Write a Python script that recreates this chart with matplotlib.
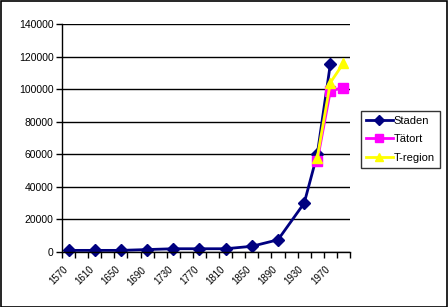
import numpy as np
import matplotlib
matplotlib.use("Agg")
import matplotlib.pyplot as plt
from matplotlib.patches import Rectangle

plt.rcParams['font.family'] = ['Liberation Sans', 'DejaVu Sans']

# Categories (20-year steps); labels shown every other category
years = [1570, 1590, 1610, 1630, 1650, 1670, 1690, 1710, 1730, 1750, 1770,
         1790, 1810, 1830, 1850, 1870, 1890, 1910, 1930, 1950, 1970, 1990]
tick_labels = ['1570', '1610', '1650', '1690', '1730', '1770', '1810',
               '1850', '1890', '1930', '1970']
nan = np.nan
staden = [1000, nan, 1000, nan, 1000, nan, 1500, nan, 2000, nan, 2000,
          nan, 2000, nan, 3500, nan, 7500, nan, 30000, 60000, 115500, nan]
tatort = [nan] * 19 + [56000, 99000, 101000]
tregion = [nan] * 19 + [58000, 104000, 116000]

series = [
    ('Staden', staden, '#000080', 'D', 6.5),
    ('Tätort', tatort, '#FF00FF', 's', 6.5),
    ('T-region', tregion, '#FFFF00', '^', 7.5),
]

W, H = 448, 307
fig = plt.figure(figsize=(W / 100, H / 100), dpi=100)
fig.patch.set_facecolor('white')
fig.patches.append(Rectangle((0.5 / W, 0.5 / H), 1 - 1.5 / W, 1 - 1.5 / H,
                             transform=fig.transFigure, fill=False,
                             edgecolor='black', lw=1.2, zorder=10))

x0, x1, ytop, ybot = 62, 350, 24, 252
ax = fig.add_axes([x0 / W, 1 - ybot / H, (x1 - x0) / W, (ybot - ytop) / H])

idx = np.arange(len(years))
for name, vals, col, mk, ms in series:
    v = np.array(vals, dtype=float)
    m = ~np.isnan(v)
    ax.plot(idx[m], v[m], color=col, lw=2, marker=mk, ms=ms,
            mec=col, mfc=col, label=name, clip_on=False)

ax.set_xlim(-0.5, len(years) - 0.5)
ax.set_ylim(0, 140000)
ax.set_yticks(np.arange(0, 140001, 20000))
ax.set_yticklabels([str(v) for v in range(0, 140001, 20000)], fontsize=7.5)
ax.yaxis.grid(True, color='black', lw=1)
ax.set_axisbelow(True)

label_pos = [i - 0.45 for i in range(0, len(years), 2)]
ax.set_xticks(label_pos)
ax.set_xticklabels(tick_labels, rotation=45, ha='right', va='top',
                   rotation_mode='anchor', fontsize=7)
ax.tick_params(axis='x', which='major', length=0, pad=9)
ax.set_xticks(np.arange(-0.5, len(years), 1), minor=True)
ax.tick_params(axis='x', which='minor', length=4, width=1, direction='out')
ax.tick_params(axis='y', length=4, width=1, direction='out', pad=2)

for s in ['top', 'right']:
    ax.spines[s].set_visible(False)
for s in ['left', 'bottom']:
    ax.spines[s].set_linewidth(1)
    ax.spines[s].set_color('black')

leg = fig.legend(loc='upper left', bbox_to_anchor=(361 / W, 1 - 111 / H),
                 fontsize=8, frameon=True, fancybox=False, edgecolor='black',
                 handlelength=2.4, handletextpad=0.1, borderpad=0.45,
                 labelspacing=0.75, borderaxespad=0, markerscale=0.8)
leg.get_frame().set_linewidth(1)

fig.savefig('out.png', dpi=100)
